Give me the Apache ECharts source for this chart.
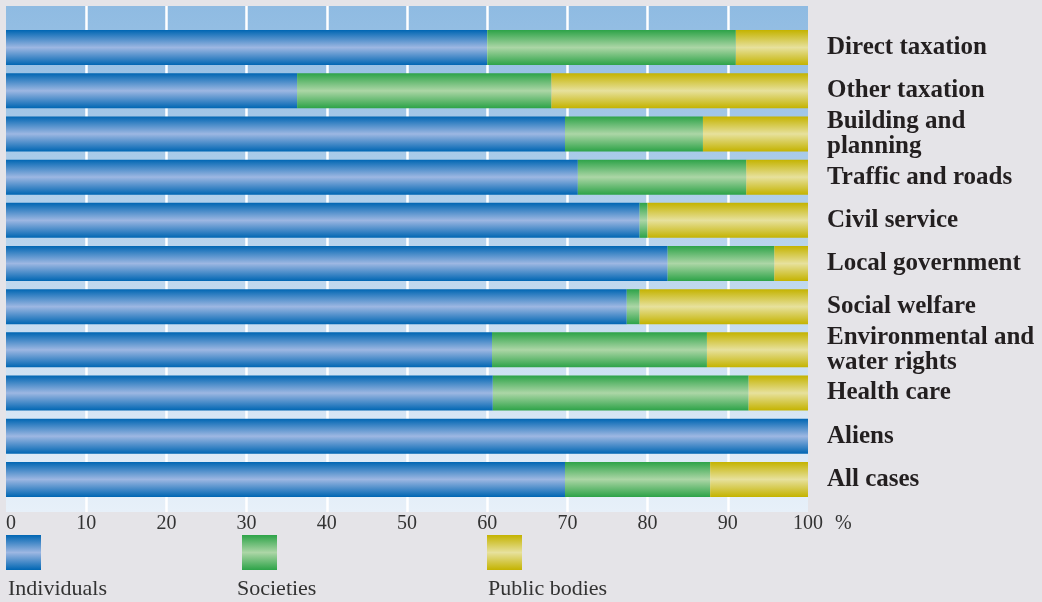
<!DOCTYPE html>
<html>
<head>
<meta charset="utf-8">
<script src="https://cdn.jsdelivr.net/npm/echarts@6/dist/echarts.min.js"></script>
<style>
html,body{margin:0;padding:0;background:#e5e4e8;}
#chart{width:1042px;height:602px;}
</style>
</head>
<body>
<div id="chart"></div>
<script>
const categories = ['Direct taxation', 'Other taxation', 'Building and\nplanning', 'Traffic and roads', 'Civil service', 'Local government', 'Social welfare', 'Environmental and\nwater rights', 'Health care', 'Aliens', 'All cases'];
const individuals = [60, 36.3, 69.7, 71.3, 79, 82.5, 77.4, 60.6, 60.7, 100, 69.7];
const societies = [31, 31.7, 17.2, 21, 1, 13.3, 1.6, 26.8, 31.9, 0, 18.1];
const publicBodies = [9, 32, 13.1, 7.7, 20, 4.2, 21, 12.6, 7.4, 0, 12.2];
const seriesNames = ['Individuals', 'Societies', 'Public bodies'];

const serif = '"Liberation Serif", "DejaVu Serif", serif';
function vgrad(edge, mid) {
  return new echarts.graphic.LinearGradient(0, 0, 0, 1, [
    {offset: 0, color: edge},
    {offset: 0.5, color: mid},
    {offset: 1, color: edge}
  ]);
}
const colors = [
  vgrad('#0066b3', '#9db7e2'),
  vgrad('#2da348', '#acd6a6'),
  vgrad('#c4b300', '#e7e19d')
];

const chart = echarts.init(document.getElementById('chart'));
const legendLefts = [6, 242, 487];
const labelLefts = [8, 237, 488];
chart.setOption({
  backgroundColor: '#e5e4e8',
  animation: false,
  grid: [
    {left: 6, right: 234, top: 6, bottom: 90, show: true, borderWidth: 0,
     backgroundColor: new echarts.graphic.LinearGradient(0, 0, 0, 1, [
       {offset: 0, color: '#8fbbe2'}, {offset: 1, color: '#e7f0f9'}])},
    {left: 6, right: 234, top: 26, bottom: 101}
  ],
  xAxis: [
    {gridIndex: 0, type: 'value', min: 0, max: 100, interval: 10,
     axisLine: {show: false}, axisTick: {show: false},
     splitLine: {show: true, showMinLine: false, showMaxLine: false, lineStyle: {color: '#ffffff', width: 2.5}},
     axisLabel: {fontFamily: serif, fontSize: 20, color: '#333333', margin: 2, alignMinLabel: 'left'},
     name: '%', nameLocation: 'end', nameGap: 27,
     nameTextStyle: {fontFamily: serif, fontSize: 20, color: '#333333', align: 'left', verticalAlign: 'top', padding: [2, 0, 0, 0]}},
    {gridIndex: 1, type: 'value', min: 0, max: 100, show: false}
  ],
  yAxis: [
    {gridIndex: 0, type: 'value', show: false},
    {gridIndex: 1, type: 'category', data: categories, inverse: true, position: 'right',
     axisLine: {show: false}, axisTick: {show: false}, splitLine: {show: false},
     axisLabel: {align: 'left', margin: 19, fontFamily: serif, fontSize: 25, fontWeight: 'bold', color: '#231f20', lineHeight: 25, padding: [3, 0, 0, 0]}}
  ],
  legend: seriesNames.map((n, i) => ({
    data: [n], left: legendLefts[i], top: 535, padding: 0, icon: 'rect',
    itemWidth: 35, itemHeight: 35, selectedMode: false, formatter: () => ''
  })),
  graphic: seriesNames.map((n, i) => ({
    type: 'text', left: labelLefts[i], top: 578,
    style: {text: n, font: '22px ' + serif, fill: '#333333'}
  })),
  series: [individuals, societies, publicBodies].map((d, i) => ({
    name: seriesNames[i], type: 'bar', stack: 'total', xAxisIndex: 1, yAxisIndex: 1,
    barWidth: 35, data: d, itemStyle: {color: colors[i]}
  }))
});
</script>
</body>
</html>
